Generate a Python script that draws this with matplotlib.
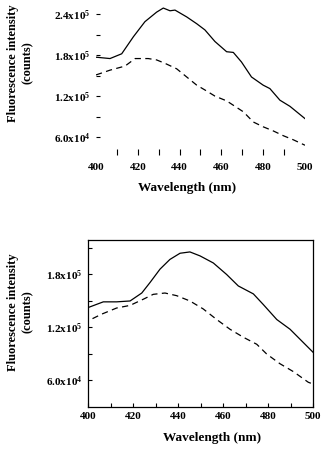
import matplotlib
matplotlib.use("Agg")
import matplotlib.pyplot as plt
from matplotlib.ticker import FixedLocator, MultipleLocator
import numpy as np

plt.rcParams["font.family"] = ["Liberation Serif", "DejaVu Serif"]
plt.rcParams["font.weight"] = "bold"
plt.rcParams["mathtext.default"] = "regular"

# ── data (top panel) ─────────────────────────────────────────
TOP_SOLID_NM = [400, 406.7, 412.3, 417.9, 423.4, 429, 432.2, 435.4, 437.8, 443.4,
                448.2, 452.1, 456.9, 462.5, 465.7, 469.6, 474.4, 480, 483.2, 488,
                492.8, 500]
TOP_SOLID = [1.77e5, 1.75e5, 1.82e5, 2.07e5, 2.29e5, 2.43e5, 2.49e5, 2.45e5, 2.46e5, 2.36e5,
             2.26e5, 2.17e5, 2.00e5, 1.85e5, 1.84e5, 1.70e5, 1.48e5, 1.36e5, 1.31e5, 1.14e5,
             1.05e5, 0.87e5]
TOP_DASH_NM = [400, 406.7, 413.9, 418.7, 425, 429, 433, 438.6, 443.4, 448.2, 452.1,
               456.9, 462.5, 466.5, 470.5, 475.3, 480, 484.8, 489.6, 494.4, 500]
TOP_DASH = [1.51e5, 1.58e5, 1.64e5, 1.75e5, 1.75e5, 1.73e5, 1.68e5, 1.60e5, 1.48e5, 1.36e5, 1.29e5,
            1.20e5, 1.13e5, 1.05e5, 0.97e5, 0.82e5, 0.75e5, 0.69e5, 0.62e5, 0.56e5, 0.48e5]

# ── data (bottom panel) ──────────────────────────────────────
BOT_SOLID_NM = [400, 406.8, 412.7, 418.7, 423.9, 427.6, 432, 436.4, 440.9, 445.3, 449.8,
                455.7, 461.6, 466.8, 473.5, 477.9, 483.9, 489.8, 500]
BOT_SOLID = [1.425e5, 1.49e5, 1.49e5, 1.50e5, 1.59e5, 1.71e5, 1.86e5, 1.97e5, 2.04e5, 2.055e5, 2.01e5,
             1.93e5, 1.80e5, 1.67e5, 1.58e5, 1.46e5, 1.29e5, 1.18e5, 0.92e5]
BOT_DASH_NM = [402, 406, 412.7, 418.7, 424.6, 429, 434.2, 439.4, 445.3, 451.2, 457.2,
               463.1, 469, 475, 479.4, 485.3, 491.3, 497.9, 500]
BOT_DASH = [1.30e5, 1.35e5, 1.42e5, 1.45e5, 1.52e5, 1.575e5, 1.59e5, 1.56e5, 1.50e5, 1.41e5, 1.29e5,
            1.18e5, 1.09e5, 1.01e5, 0.90e5, 0.79e5, 0.70e5, 0.58e5, 0.56e5]

X_TICKS = [400, 420, 440, 460, 480, 500]
TOP_Y_TICKS = [6.0e4, 1.2e5, 1.8e5, 2.4e5]
TOP_Y_LABELS = [r"6.0x10$^4$", r"1.2x10$^5$", r"1.8x10$^5$", r"2.4x10$^5$"]
BOT_Y_TICKS = [6.0e4, 1.2e5, 1.8e5]
BOT_Y_LABELS = [r"6.0x10$^4$", r"1.2x10$^5$", r"1.8x10$^5$"]

W, H = 323, 449
fig = plt.figure(figsize=(W / 100, H / 100), dpi=100)

DASH = (0, (5, 3.5))
TICK_FS = 8
LABEL_FS = 9.5
YLABEL_FS = 9


def px_axes(left, top, right, bottom):
    return fig.add_axes([left / W, 1 - bottom / H, (right - left) / W, (bottom - top) / H])


# ── top panel: no frame, ticks only ─────────────────────────
ax1 = px_axes(96, 6, 305, 155)
ax1.plot(TOP_SOLID_NM, TOP_SOLID, color="black", lw=0.9)
ax1.plot(TOP_DASH_NM, TOP_DASH, color="black", lw=0.9, linestyle=DASH)
ax1.set_xlim(400, 500)
ax1.set_ylim(33700, 252000)
for s in ax1.spines.values():
    s.set_visible(False)
ax1.set_xticks(X_TICKS)
ax1.set_xticklabels([str(v) for v in X_TICKS], fontsize=TICK_FS, fontweight="bold")
ax1.xaxis.set_minor_locator(FixedLocator([410, 430, 450, 470, 490]))
ax1.set_yticks(TOP_Y_TICKS)
ax1.set_yticklabels(TOP_Y_LABELS, fontsize=TICK_FS, fontweight="bold")
ax1.yaxis.set_minor_locator(FixedLocator([9.0e4, 1.5e5, 2.1e5]))
ax1.tick_params(axis="x", which="both", direction="in", length=4, width=0.8, pad=6)
ax1.tick_params(axis="y", which="both", direction="in", length=3, width=0.8, pad=4)
for t in (ax1.xaxis.get_major_ticks()[0], ax1.xaxis.get_major_ticks()[-1]):
    t.tick1line.set_visible(False)
fig.text(187 / W, 1 - 188 / H, "Wavelength (nm)", ha="center", va="center",
         fontsize=LABEL_FS, fontweight="bold")
fig.text(20 / W, 1 - 63 / H, "Fluorescence intensity\n(counts)", rotation=90,
         ha="center", va="center", multialignment="center", fontsize=YLABEL_FS,
         fontweight="bold", linespacing=1.3)

# ── bottom panel: boxed ─────────────────────────────────────
ax2 = px_axes(88, 240, 313, 407)
ax2.plot(BOT_SOLID_NM, BOT_SOLID, color="black", lw=0.9)
ax2.plot(BOT_DASH_NM, BOT_DASH, color="black", lw=0.9, linestyle=DASH)
ax2.set_xlim(400, 500)
ax2.set_ylim(30000, 219000)
for s in ax2.spines.values():
    s.set_linewidth(0.9)
ax2.set_xticks(X_TICKS)
ax2.set_xticklabels([str(v) for v in X_TICKS], fontsize=TICK_FS, fontweight="bold")
ax2.xaxis.set_minor_locator(MultipleLocator(10))
ax2.set_yticks(BOT_Y_TICKS)
ax2.set_yticklabels(BOT_Y_LABELS, fontsize=TICK_FS, fontweight="bold")
ax2.yaxis.set_minor_locator(FixedLocator([9.0e4, 1.5e5, 2.1e5]))
ax2.tick_params(which="both", direction="in", length=3, width=0.8)
ax2.tick_params(axis="y", pad=4)
fig.text(212 / W, 1 - 438 / H, "Wavelength (nm)", ha="center", va="center",
         fontsize=LABEL_FS, fontweight="bold")
fig.text(20 / W, 1 - 312 / H, "Fluorescence intensity\n(counts)", rotation=90,
         ha="center", va="center", multialignment="center", fontsize=YLABEL_FS,
         fontweight="bold", linespacing=1.3)

fig.savefig("out.png", dpi=100)
